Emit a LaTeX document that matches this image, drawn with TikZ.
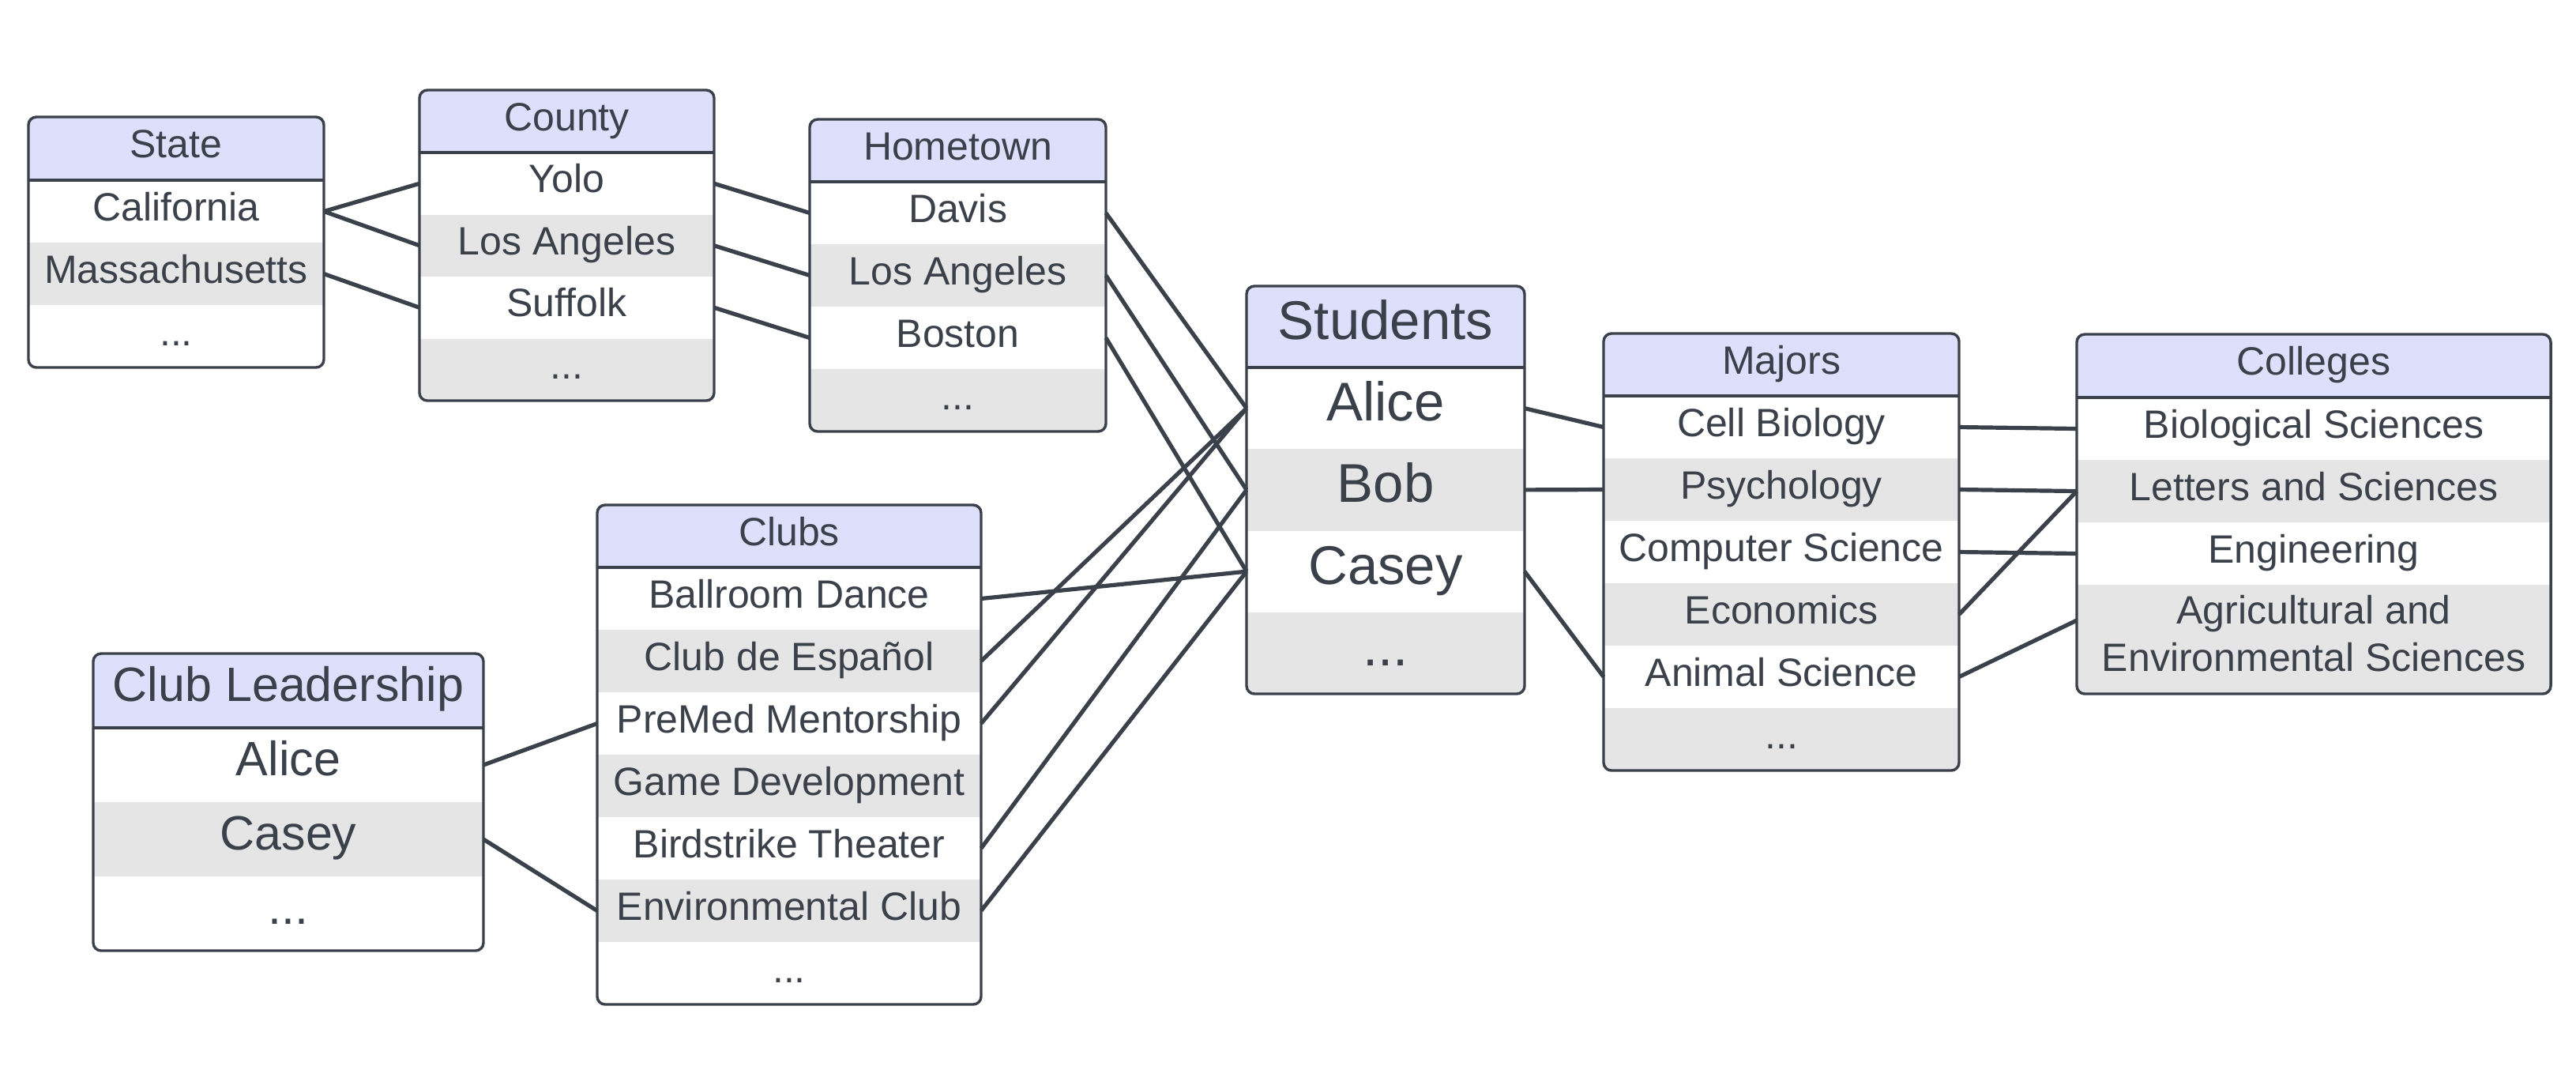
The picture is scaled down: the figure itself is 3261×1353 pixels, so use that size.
\documentclass[tikz,border=0pt]{standalone}
\usepackage{fontspec}
\setmainfont{Liberation Sans}
\usetikzlibrary{calc}
\definecolor{ink}{HTML}{3A414A}
\definecolor{hdr}{HTML}{DEDFFB}
\definecolor{rowg}{HTML}{E5E5E5}
\tikzset{
  cell/.style={inner sep=0pt, outer sep=0pt, text=ink, align=center},
  fa/.style={font=\fontsize{12.5}{15}\selectfont, text height=9pt, text depth=3.2pt},
  fs/.style={font=\fontsize{17.25}{20.7}\selectfont, text height=12.5pt, text depth=4.5pt},
  fl/.style={font=\fontsize{15.25}{18.3}\selectfont, text height=11pt, text depth=4.2pt},
  frame/.style={draw=ink, line width=0.85pt, rounded corners=2.5pt},
  sep/.style={draw=ink, line width=1.05pt},
  link/.style={draw=ink, line width=1.3pt},
  laststy/.style={},
  rowsty/.style={}
}
\newcommand{\threedots}{...}
\def\lastextra{0}
\newcommand{\ertable}[9]{%
  \foreach \rowtxt [count=\n] in {#9} {\xdef\nrows{\n}}%
  \pgfmathsetmacro{\tbot}{#3+#5+\nrows*#6+\lastextra}%
  \pgfmathsetmacro{\tright}{#2+#4}%
  \pgfmathsetmacro{\hbot}{#3+#5}%
  \begin{scope}
    \clip[rounded corners=2.5pt] (#2,#3) rectangle (\tright,\tbot);
    \fill[white] (#2,#3) rectangle (\tright,\tbot);
    \fill[hdr] (#2,#3) rectangle (\tright,\hbot);
    \foreach \rowtxt [count=\i] in {#9} {
      \pgfmathsetmacro{\ya}{#3+#5+(\i-1)*#6}
      \pgfmathsetmacro{\yb}{\i==\nrows ? \tbot : #3+#5+\i*#6}
      \ifodd\i\else\fill[rowg] (#2,\ya) rectangle (\tright,\yb);\fi
    }
  \end{scope}
  \pgfmathsetmacro{\xm}{#2+#4/2}%
  \pgfmathsetmacro{\ym}{#3+#5/2}%
  \node[cell,#7,minimum width={#4*0.25pt},minimum height={#5*0.25pt}] (#1-h) at (\xm,\ym) {#8};
  \foreach \rowtxt [count=\i] in {#9} {
    \pgfmathsetmacro{\ya}{#3+#5+(\i-1)*#6}
    \pgfmathsetmacro{\yb}{\i==\nrows ? \tbot : #3+#5+\i*#6}
    \pgfmathsetmacro{\yc}{(\ya+\yb)/2}
    \pgfmathsetmacro{\hh}{(\yb-\ya)*0.25}
    \ifnum\i=\nrows\relax\tikzset{rowsty/.style={laststy}}\else\tikzset{rowsty/.style={}}\fi
    \node[cell,#7,rowsty,minimum width={#4*0.25pt},minimum height={\hh pt}] (#1-\i) at (\xm,\yc) {\rowtxt};
  }
  \draw[sep] (#2,\hbot) -- (\tright,\hbot);
  \draw[frame] (#2,#3) rectangle (\tright,\tbot);
}
\begin{document}
\begin{tikzpicture}[x=0.25pt,y=-0.25pt]
\useasboundingbox (0,0) rectangle (3261,1353);

\ertable{state}{36}{148}{374}{80}{79}{fa}{State}{California,Massachusetts,\threedots}
\ertable{county}{531}{114}{373}{79}{78.5}{fa}{County}{Yolo,Los Angeles,Suffolk,\threedots}
\ertable{home}{1025}{151}{375}{79}{79}{fa}{Hometown}{Davis,Los Angeles,Boston,\threedots}
\ertable{stu}{1578}{362}{352}{103}{103.25}{fs}{Students}{Alice,Bob,Casey,\threedots}
\ertable{maj}{2030}{422}{450}{79}{79}{fa}{Majors}{Cell Biology,Psychology,Computer Science,Economics,Animal Science,\threedots}
\def\lastextra{59}
\tikzset{laststy/.style={text height={},text depth={},yshift=1.75pt}}
\ertable{col}{2629}{423}{600}{80}{79}{fa}{Colleges}{Biological Sciences,Letters and Sciences,Engineering,{Agricultural and\\Environmental Sciences}}
\def\lastextra{0}
\tikzset{laststy/.style={}}
\ertable{clubs}{756}{639}{486}{79}{79}{fa}{Clubs}{Ballroom Dance,Club de Español,PreMed Mentorship,Game Development,Birdstrike Theater,Environmental Club,\threedots}
\ertable{lead}{118}{827}{494}{94}{94}{fl}{Club Leadership}{Alice,Casey,\threedots}

% connectors
\draw[link] (state-1.east) -- (county-1.west);
\draw[link] (state-1.east) -- (county-2.west);
\draw[link] (state-2.east) -- (county-3.west);
\draw[link] (county-1.east) -- (home-1.west);
\draw[link] (county-2.east) -- (home-2.west);
\draw[link] (county-3.east) -- (home-3.west);
\draw[link] (home-1.east) -- (stu-1.west);
\draw[link] (home-2.east) -- (stu-2.west);
\draw[link] (home-3.east) -- (stu-3.west);
\draw[link] (clubs-1.east) -- (stu-3.west);
\draw[link] (clubs-2.east) -- (stu-1.west);
\draw[link] (clubs-3.east) -- (stu-1.west);
\draw[link] (clubs-5.east) -- (stu-2.west);
\draw[link] (clubs-6.east) -- (stu-3.west);
\draw[link] (lead-1.east) -- (clubs-3.west);
\draw[link] (lead-2.east) -- (clubs-6.west);
\draw[link] (stu-1.east) -- (maj-1.west);
\draw[link] (stu-2.east) -- (maj-2.west);
\draw[link] (stu-3.east) -- (maj-5.west);
\draw[link] (maj-1.east) -- (col-1.west);
\draw[link] (maj-2.east) -- (col-2.west);
\draw[link] (maj-3.east) -- (col-3.west);
\draw[link] (maj-4.east) -- (col-2.west);
\draw[link] (maj-5.east) -- ([yshift=4.25pt]col-4.west);
\end{tikzpicture}
\end{document}
